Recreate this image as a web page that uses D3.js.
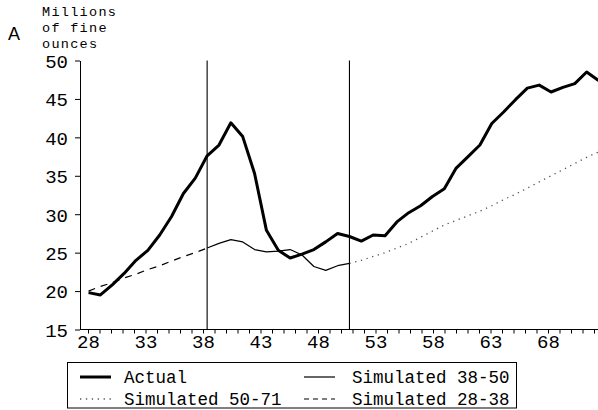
<!DOCTYPE html>
<html>
<head>
<meta charset="utf-8">
<script src="https://cdn.jsdelivr.net/npm/d3@7"></script>
<style>
  html, body { margin: 0; padding: 0; background: #fff; }
  svg { display: block; }
  text { fill: #000; }
</style>
</head>
<body>
<svg id="chart" width="598" height="410"></svg>
<script>
// Years (19xx) and production, millions of fine ounces
const years = d3.range(28, 72);
const actual = [19.8, 19.5, 20.8, 22.3, 24.0, 25.3, 27.3, 29.7, 32.7, 34.7,
                37.6, 39.0, 41.9, 40.1, 35.3, 27.9, 25.3, 24.3, 24.8, 25.4,
                26.4, 27.5, 27.1, 26.5, 27.3, 27.2, 29.0, 30.2, 31.1, 32.3,
                33.3, 36.0, 37.5, 39.0, 41.8, 43.3, 44.9, 46.4, 46.8, 45.9,
                46.5, 47.0, 48.5, 47.4];

const sim2838Years = d3.range(28, 39);
const sim2838 = [20.0, 20.6, 21.1, 21.7, 22.2, 22.8, 23.3, 23.9, 24.5, 25.0, 25.6];

const sim3850Years = d3.range(38, 51);
const sim3850 = [25.6, 26.2, 26.7, 26.4, 25.4, 25.1, 25.2, 25.4, 24.7, 23.2, 22.7, 23.3, 23.6];

const sim5071Years = d3.range(50, 72);
const sim5071 = [23.6, 24.0, 24.5, 25.0, 25.6, 26.2, 27.0, 27.8, 28.6, 29.2, 29.8,
                 30.4, 31.1, 31.9, 32.6, 33.4, 34.2, 35.0, 35.8, 36.6, 37.4, 38.1];

const yTicks = [15, 20, 25, 30, 35, 40, 45, 50];
const xTickYears = d3.range(28, 73);
const xTickLabels = [28, 33, 38, 43, 48, 53, 58, 63, 68];
const splitYears = [38, 50];

const titleLines = ["Millions", "of fine", "ounces"];
const legendItems = [
  { label: "Actual", style: "actual", col: 0, row: 0 },
  { label: "Simulated 38-50", style: "s3850", col: 1, row: 0 },
  { label: "Simulated 50-71", style: "s5071", col: 0, row: 1 },
  { label: "Simulated 28-38", style: "s2838", col: 1, row: 1 }
];

const styles = {
  actual: { width: 3, dash: null, color: "#000" },
  s3850: { width: 1.2, dash: null, color: "#000" },
  s2838: { width: 1.2, dash: "7,6", color: "#000" },
  s5071: { width: 1.3, dash: "1.3,4.6", color: "#555" }
};

const mono = "'Liberation Mono', 'Courier New', monospace";
const svg = d3.select("#chart");

// Plot scale for the series, and the slightly tighter scale the year axis is drawn on
const x = d3.scaleLinear().domain([27.28, 71]).range([80, 598.5]);
const xAxisScale = d3.scaleLinear().domain([28, 68]).range([88, 548]);
const y = d3.scaleLinear().domain([15, 50]).range([329.5, 60.5]);

// Panel letter and unit label
svg.append("text").attr("x", 8).attr("y", 40)
  .attr("font-family", "'Liberation Sans', Arial, sans-serif")
  .attr("font-size", 18).text("A");
svg.append("g").selectAll("text").data(titleLines).join("text")
  .attr("x", 42).attr("y", (d, i) => 16 + i * 16)
  .attr("font-family", mono).attr("font-size", 13.5)
  .attr("letter-spacing", 1.3)
  .text(d => d);

// Y axis
const yAxis = svg.append("g").attr("transform", `translate(80,0)`)
  .call(d3.axisLeft(y).tickValues(yTicks).tickSize(5).tickPadding(7).tickSizeOuter(0));
yAxis.select(".domain").attr("stroke", "#000");
yAxis.selectAll("text").attr("font-family", mono).attr("font-size", 19)
  .attr("dy", "0.36em");

// X axis: a tick every year, labels every five years
const xAxis = svg.append("g").attr("transform", `translate(0,${y(15)})`)
  .call(d3.axisBottom(xAxisScale).tickValues(xTickYears).tickSize(4).tickSizeOuter(0)
    .tickFormat(d => xTickLabels.includes(d) ? d : ""));
xAxis.select(".domain").attr("stroke", "#000").attr("d", `M80,0H598`);
xAxis.selectAll("text").attr("font-family", mono).attr("font-size", 19)
  .attr("dy", "0.62em");

// Vertical markers at the simulation break points
svg.append("g").selectAll("line").data(splitYears).join("line")
  .attr("x1", d => x(d)).attr("x2", d => x(d))
  .attr("y1", y(50)).attr("y2", y(15))
  .attr("stroke", "#000").attr("stroke-width", 1.1);

const line = d3.line().x(d => x(d[0])).y(d => y(d[1]));
function drawSeries(xs, vs, key) {
  const s = styles[key];
  svg.append("path").datum(xs.map((v, i) => [v, vs[i]]))
    .attr("d", line).attr("fill", "none")
    .attr("stroke", s.color).attr("stroke-width", s.width)
    .attr("stroke-linejoin", "round")
    .attr("stroke-dasharray", s.dash);
}
drawSeries(sim5071Years, sim5071, "s5071");
drawSeries(sim2838Years, sim2838, "s2838");
drawSeries(sim3850Years, sim3850, "s3850");
drawSeries(years, actual, "actual");

// Legend
const legend = svg.append("g");
legend.append("rect").attr("x", 67.5).attr("y", 362.5).attr("width", 449).attr("height", 45.5)
  .attr("fill", "none").attr("stroke", "#000").attr("stroke-width", 1);
const colX = [80, 304];
const rowY = [377, 399];
const items = legend.selectAll("g.item").data(legendItems).join("g").attr("class", "item");
items.append("line")
  .attr("x1", d => colX[d.col]).attr("x2", d => colX[d.col] + 31)
  .attr("y1", d => rowY[d.row]).attr("y2", d => rowY[d.row])
  .attr("stroke", d => styles[d.style].color)
  .attr("stroke-width", d => styles[d.style].width)
  .attr("stroke-dasharray", d => d.style === "s2838" ? "5,4" : styles[d.style].dash);
items.append("text")
  .attr("x", d => colX[d.col] + (d.col === 0 ? 44 : 48))
  .attr("y", d => rowY[d.row] + 6)
  .attr("font-family", mono).attr("font-size", 17.5)
  .text(d => d.label);
</script>
</body>
</html>
